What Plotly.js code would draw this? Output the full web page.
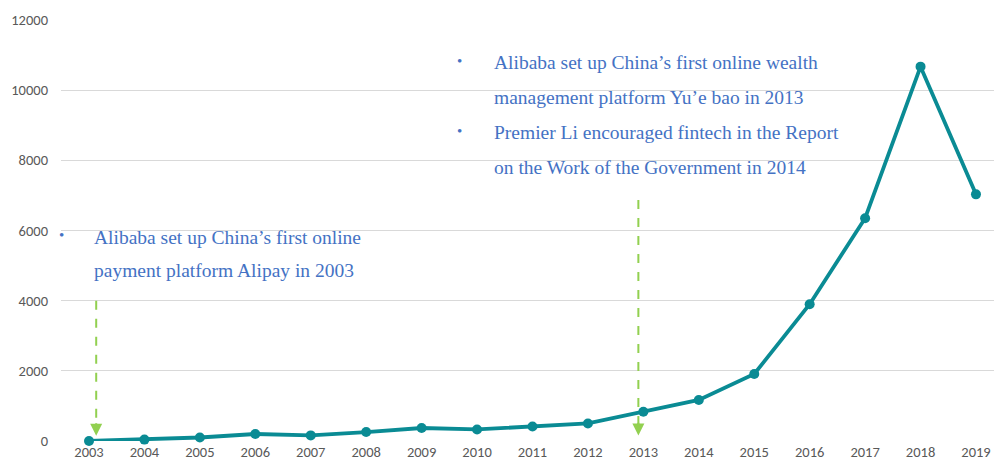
<!DOCTYPE html>
<html>
<head>
<meta charset="utf-8">
<script src="https://cdn.plot.ly/plotly-3.0.1.min.js"></script>
<style>html,body{margin:0;padding:0;background:#fff;}#chart{width:994px;height:464px;}</style>
</head>
<body>
<div id="chart"></div>
<script>
const years = [2003,2004,2005,2006,2007,2008,2009,2010,2011,2012,2013,2014,2015,2016,2017,2018,2019];
const values = [0,40,100,200,160,255,370,330,415,500,835,1170,1910,3900,6350,10670,7030];
const yTicks = [0,2000,4000,6000,8000,10000,12000];

// annotation text blocks
const topLines = [
  "Alibaba set up China’s first online wealth",
  "management platform Yu’e bao in 2013",
  "Premier Li encouraged fintech in the Report",
  "on the Work of the Government in 2014"
];
const topBulletsAt = [0, 2];
const lowLines = [
  "Alibaba set up China’s first online",
  "payment platform Alipay in 2003"
];
const lowBulletsAt = [0];

// arrows: [x, yStart, yEnd]
const arrows = [[2003.13, 4000, 150], [2012.91, 6870, 160]];

const blue = '#4472C4';
const green = '#92D050';
const teal = '#0A8B94';
const serif = 'Liberation Serif, Times New Roman, serif';

const annotations = [];
const topX = 2010.27, topBx = 2009.69, topY0 = 10800, lineStep = 1000;
topLines.forEach((t, i) => {
  annotations.push({x: topX, y: topY0 - i*lineStep, xref:'x', yref:'y', text:t, showarrow:false,
    xanchor:'left', yanchor:'middle', font:{family:serif, size:19.5, color:blue}});
});
topBulletsAt.forEach(i => {
  annotations.push({x: topBx, y: topY0 - i*lineStep + 30, xref:'x', yref:'y', text:'•', showarrow:false,
    xanchor:'center', yanchor:'middle', font:{family:serif, size:15, color:blue}});
});
const lowX = 2003.06, lowBx = 2002.51, lowY0 = 5800, lowStep = 950;
lowLines.forEach((t, i) => {
  annotations.push({x: lowX, y: lowY0 - i*lowStep, xref:'x', yref:'y', text:t, showarrow:false,
    xanchor:'left', yanchor:'middle', font:{family:serif, size:19.5, color:blue}});
});
lowBulletsAt.forEach(i => {
  annotations.push({x: lowBx, y: lowY0 - i*lowStep + 60, xref:'x', yref:'y', text:'•', showarrow:false,
    xanchor:'center', yanchor:'middle', font:{family:serif, size:15, color:blue}});
});

const shapes = arrows.map(a => ({type:'line', xref:'x', yref:'y', x0:a[0], x1:a[0], y0:a[1], y1:a[2]+250,
  line:{color:green, width:2, dash:'dash'}}));
arrows.forEach(a => {
  annotations.push({x:a[0], y:a[2], xref:'x', yref:'y', ax:a[0], ay:a[2]+400, axref:'x', ayref:'y',
    text:'', showarrow:true, arrowhead:2, arrowsize:1.2, arrowwidth:2, arrowcolor:green});
});

const data = [{
  x: years, y: values, type:'scatter', mode:'lines+markers',
  line:{color:teal, width:3.8}, marker:{color:teal, size:10}, cliponaxis:false, hoverinfo:'x+y'
}];

const tickFont = {family:'Carlito, Liberation Sans, sans-serif', size:14.5, color:'#595959'};
const layout = {
  width:994, height:464,
  margin:{l:61, r:0, t:20, b:23},
  paper_bgcolor:'#fff', plot_bgcolor:'#fff',
  showlegend:false,
  xaxis:{range:[2002.495, 2019.325], tickvals:years, ticktext:years.map(String), showgrid:false, zeroline:false,
    showline:false, ticks:'', tickfont:tickFont, fixedrange:true},
  yaxis:{range:[0,12000], tickvals:yTicks, ticktext:yTicks.map(String), showgrid:true, gridcolor:'#D9D9D9', gridwidth:1,
    zeroline:false, showline:false, ticks:'', ticklabelstandoff:12, tickfont:tickFont, fixedrange:true},
  annotations: annotations,
  shapes: shapes
};
Plotly.newPlot('chart', data, layout, {displayModeBar:false, staticPlot:true});
</script>
</body>
</html>
